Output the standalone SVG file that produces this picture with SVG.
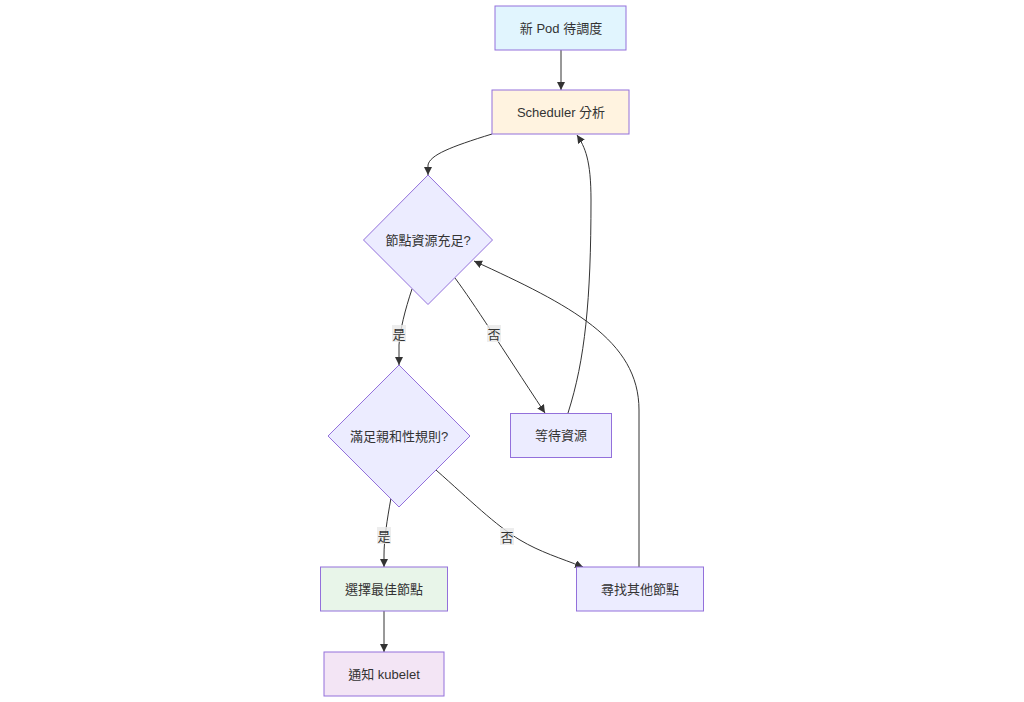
<svg xmlns="http://www.w3.org/2000/svg" width="1024" height="702" viewBox="0 0 1024 702">
<style>
.node rect,.node polygon{stroke:#9370DB;stroke-width:1}
.t{font-family:"Liberation Sans","Noto Sans CJK TC",sans-serif;font-size:13px;fill:#333;text-anchor:middle;dominant-baseline:central}
.e{fill:none;stroke:#333;stroke-width:1}
.lb{fill:#e8e8e8;opacity:0.8}
</style>
<defs>
<marker id="ah" viewBox="0 0 10 10" refX="10" refY="5" markerWidth="8" markerHeight="8" markerUnits="userSpaceOnUse" orient="auto">
<path d="M0,0 L10,5 L0,10 z" fill="#333"/>
</marker>
</defs>
<rect width="1024" height="702" fill="#fff"/>
<g id="edges">
<path class="e" d="M561,50 L561,90" marker-end="url(#ah)"/>
<path class="e" d="M492,134 C450,147 430,155 428,165 L428,175" marker-end="url(#ah)"/>
<path class="e" d="M412,289 C405,310 400,330 399,345 L399,365" marker-end="url(#ah)"/>
<path class="e" d="M455,278 C475,305 500,345 545,413" marker-end="url(#ah)"/>
<path class="e" d="M568,413 C585,360 591,300 591,200 C591,160 585,147 577,135" marker-end="url(#ah)"/>
<path class="e" d="M639,567 L639,410 C639,340 570,305 474,261" marker-end="url(#ah)"/>
<path class="e" d="M391,498 C387,520 384,540 384,555 L384,567" marker-end="url(#ah)"/>
<path class="e" d="M436,470 C470,500 495,525 520,540 C540,552 560,558 583,567" marker-end="url(#ah)"/>
<path class="e" d="M384,611 L384,652" marker-end="url(#ah)"/>
<rect class="lb" x="392" y="325" width="14" height="17"/>
<text class="t" x="399" y="334">是</text>
<rect class="lb" x="487" y="325" width="14" height="17"/>
<text class="t" x="494" y="334">否</text>
<rect class="lb" x="377" y="527" width="14" height="17"/>
<text class="t" x="384" y="536">是</text>
<rect class="lb" x="500" y="528" width="14" height="17"/>
<text class="t" x="507" y="537">否</text>
</g>
<g id="nodeA" class="node"><rect x="495" y="6" width="131" height="44" fill="#e1f5fe"/><text class="t" x="561" y="28">新 Pod 待調度</text></g>
<g id="nodeB" class="node"><rect x="492" y="90" width="137" height="44" fill="#fff3e0"/><text class="t" x="561" y="112">Scheduler 分析</text></g>
<g id="nodeC" class="node"><polygon points="428,175 492.5,240 428,304.5 363.5,240" fill="#ECECFF"/><text class="t" x="428" y="240">節點資源充足?</text></g>
<g id="nodeD" class="node"><polygon points="399,365 470,436 399,507 328,436" fill="#ECECFF"/><text class="t" x="399" y="436">滿足親和性規則?</text></g>
<g id="nodeE" class="node"><rect x="510.5" y="413.5" width="101" height="44" fill="#ECECFF"/><text class="t" x="561" y="435.5">等待資源</text></g>
<g id="nodeF" class="node"><rect x="320.5" y="567" width="127" height="44" fill="#e8f5e9"/><text class="t" x="384" y="589">選擇最佳節點</text></g>
<g id="nodeG" class="node"><rect x="576.5" y="567" width="127" height="44" fill="#ECECFF"/><text class="t" x="640" y="589">尋找其他節點</text></g>
<g id="nodeH" class="node"><rect x="324" y="652" width="120" height="44" fill="#f3e5f5"/><text class="t" x="384" y="674">通知 kubelet</text></g>
</svg>
